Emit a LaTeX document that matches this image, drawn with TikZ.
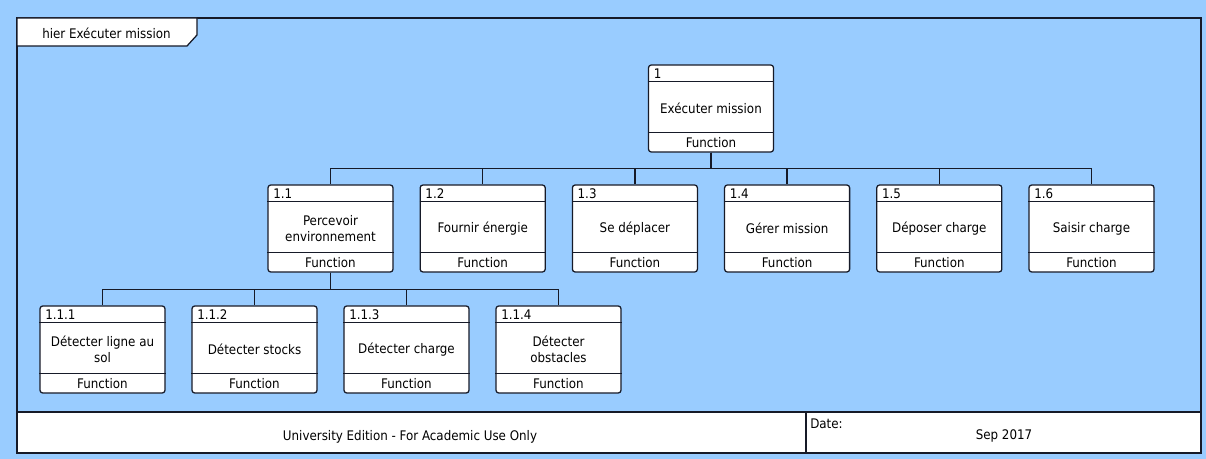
\documentclass[tikz,border=0pt]{standalone}
\usepackage{fontspec}
\setmainfont{DejaVu Sans Condensed}
\usepackage{tikz}
\usepackage{xcolor}

\definecolor{skyblue}{RGB}{153,204,255}
\definecolor{edge}{RGB}{22,26,40}

\tikzset{
	txt/.style={font=\fontsize{9.4}{11.4}\selectfont},
	fnbox/.style={txt, draw=edge, fill=white, line width=0.9pt, rounded corners=2pt,
		minimum width=3.125cm, minimum height=2.175cm, inner sep=0pt, align=center},
	fnrule/.style={draw=edge, line width=0.9pt},
	fnnum/.style={txt, anchor=north west, inner sep=0pt, xshift=4pt, yshift=-2.8pt},
	fnkind/.style={txt, anchor=south, inner sep=0pt, yshift=3.4pt},
	link/.style={draw=edge, line width=0.9pt}
}

% function box: name, x, y, number, text
\newcommand{\fnfunc}[5]{
	\node [fnbox] (#1) at (#2,#3) {#5};
	\draw [fnrule] ([yshift=-0.425cm]#1.north west) -- ([yshift=-0.425cm]#1.north east);
	\draw [fnrule] ([yshift=0.5cm]#1.south west) -- ([yshift=0.5cm]#1.south east);
	\node [fnnum] (#1num) at (#1.north west) {#4};
	\node [fnkind] (#1kind) at (#1.south) {Function};
}

\begin{document}
\begin{tikzpicture}[x=0.025cm, y=-0.025cm]
	\useasboundingbox [fill=skyblue] (0,0) rectangle (1206,459);
	
	% frame and footer
	\fill [white] (17,412) rectangle (1201,453);
	\draw [edge, line width=1.4pt] (17,18) rectangle (1201,453);
	\draw [edge, line width=1.4pt] (17,412) -- (1201,412);
	\draw [edge, line width=1.4pt] (806,412) -- (806,453);
	\draw [edge, line width=0.9pt, fill=white] (17,18) -- (197,18) -- (197,35) -- (187,46) -- (17,46) -- cycle;
	\node [txt, anchor=west, inner sep=0pt] (title) at (42,33) {hier Exécuter mission};
	\node [txt] (edition) at (410,437) {University Edition - For Academic Use Only};
	\node [txt, anchor=west, inner sep=0pt] (datelbl) at (810,424) {Date:};
	\node [txt] (date) at (1004,436) {Sep 2017};
	
	% functions
	\fnfunc{r}{711}{108.5}{1}{Exécuter mission}
	\fnfunc{fa}{330.5}{228.5}{1.1}{Percevoir\\environnement}
	\fnfunc{fb}{482.7}{228.5}{1.2}{Fournir énergie}
	\fnfunc{fc}{634.9}{228.5}{1.3}{Se déplacer}
	\fnfunc{fd}{787.1}{228.5}{1.4}{Gérer mission}
	\fnfunc{fe}{939.3}{228.5}{1.5}{Déposer charge}
	\fnfunc{ff}{1091.5}{228.5}{1.6}{Saisir charge}
	\fnfunc{ga}{102.5}{349.5}{1.1.1}{Détecter ligne au\\sol}
	\fnfunc{gb}{254.5}{349.5}{1.1.2}{Détecter stocks}
	\fnfunc{gc}{406.5}{349.5}{1.1.3}{Détecter charge}
	\fnfunc{gd}{558.5}{349.5}{1.1.4}{Détecter\\obstacles}
	
	% decomposition links
	\foreach \k in {fa,fb,fc,fd,fe,ff}
		\draw [link] (r.south) -- ++(0,16) -| (\k.north);
	\foreach \k in {ga,gb,gc,gd}
		\draw [link] (fa.south) -- ++(0,17) -| (\k.north);
\end{tikzpicture}
\end{document}
